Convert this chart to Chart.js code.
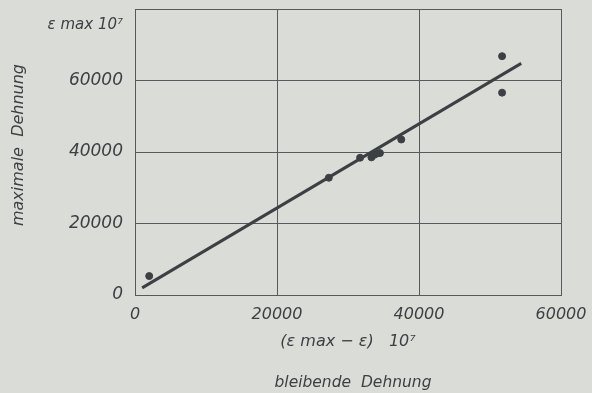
<!DOCTYPE html>
<html>
<head>
<meta charset="utf-8">
<script src="https://cdn.jsdelivr.net/npm/chart.js@4"></script>
<style>
  html, body { margin: 0; padding: 0; background: #dadcd8; }
  #wrap { width: 592px; height: 393px; }
</style>
</head>
<body>
<div id="wrap"><canvas id="chart" width="592" height="393"></canvas></div>
<script>
// measured points: permanent strain (x) vs max strain (y), both * 10^7
const xValues = [2000, 27300, 31700, 33300, 33700, 34100, 34500, 37500, 51700, 51700];
const yValues = [5300, 32800, 38400, 38500, 39200, 39600, 39700, 43500, 66800, 56600];

// fitted straight line, start and end
const lineX = [1000, 54400];
const lineY = [2000, 64800];

const xTicks = [0, 20000, 40000, 60000];
const yTicks = [0, 20000, 40000, 60000, 80000];

const ink = '#3d4042';
const font = "'DejaVu Sans', sans-serif";

// extra axis texts drawn by hand like the original figure
const labelPlugin = {
    id: 'labels',
    afterDraw(chart) {
        const ctx = chart.ctx;
        const area = chart.chartArea;
        ctx.save();
        ctx.fillStyle = ink;
        ctx.font = 'italic 15px ' + font;
        ctx.textAlign = 'right';
        ctx.textBaseline = 'middle';
        ctx.fillText('ε max 10⁷', area.left - 12, 25);

        ctx.textAlign = 'center';
        ctx.font = 'italic 16px ' + font;
        ctx.fillText('(ε max − ε)   10⁷', 348, 342);
        ctx.font = 'italic 15.5px ' + font;
        ctx.fillText('bleibende  Dehnung', 353, 383);

        ctx.translate(19, 145);
        ctx.rotate(-Math.PI / 2);
        ctx.font = 'italic 16px ' + font;
        ctx.fillText('maximale  Dehnung', 0, 0);
        ctx.restore();
    }
};

new Chart(document.getElementById('chart'), {
    type: 'scatter',
    data: {
        datasets: [{
            label: 'Messwerte',
            data: xValues.map((x, i) => ({ x: x, y: yValues[i] })),
            backgroundColor: ink,
            borderColor: ink,
            pointRadius: 3.5
        }, {
            label: 'Gerade',
            type: 'line',
            data: lineX.map((x, i) => ({ x: x, y: lineY[i] })),
            borderColor: ink,
            borderWidth: 3,
            pointRadius: 0,
            fill: false
        }]
    },
    options: {
        responsive: false,
        animation: false,
        layout: {
            padding: { top: 9, right: 31, left: 0, bottom: 0 }
        },
        plugins: {
            legend: { display: false },
            tooltip: { enabled: false }
        },
        scales: {
            x: {
                type: 'linear',
                min: 0,
                max: 60000,
                afterBuildTicks: scale => { scale.ticks = xTicks.map(v => ({ value: v })); },
                afterFit: scale => {
                    scale.height = 98;
                    scale.paddingLeft = 0;
                    scale.paddingRight = 0;
                },
                grid: { color: '#565a5c', lineWidth: 1, drawTicks: false },
                border: { color: '#565a5c', width: 1 },
                ticks: {
                    color: ink,
                    padding: 10,
                    font: { family: font, style: 'italic', size: 16 },
                    callback: v => String(v)
                }
            },
            y: {
                type: 'linear',
                min: 0,
                max: 80000,
                afterBuildTicks: scale => { scale.ticks = yTicks.map(v => ({ value: v })); },
                afterFit: scale => {
                    scale.width = 135;
                    scale.paddingTop = 0;
                    scale.paddingBottom = 0;
                },
                grid: { color: '#565a5c', lineWidth: 1, drawTicks: false },
                border: { color: '#565a5c', width: 1 },
                ticks: {
                    color: ink,
                    padding: 12,
                    font: { family: font, style: 'italic', size: 17 },
                    callback: v => v === 80000 ? '' : String(v)
                }
            }
        }
    },
    plugins: [labelPlugin]
});
</script>
</body>
</html>
